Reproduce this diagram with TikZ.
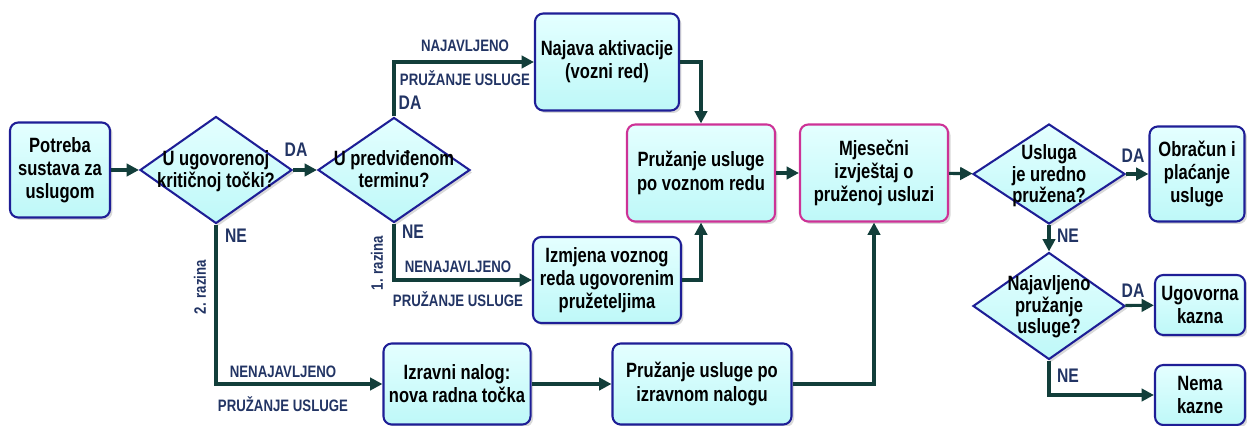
\documentclass[tikz,border=0pt]{standalone}
\usepackage{fontspec}
\setmainfont{Liberation Sans}[FakeStretch=0.8]
\usetikzlibrary{arrows.meta, positioning, shapes.geometric, shadows}
\definecolor{boxline}{RGB}{30,30,150}
\definecolor{pinkline}{RGB}{205,50,150}
\definecolor{boxtop}{RGB}{228,255,255}
\definecolor{boxbot}{RGB}{190,248,248}
\definecolor{flowline}{RGB}{18,62,58}
\definecolor{lblcol}{RGB}{34,52,100}
\begin{document}
\begin{tikzpicture}[x=0.017cm, y=-0.017cm,
        box/.style={draw=boxline, line width=1pt, rounded corners=4pt, top color=boxtop, bottom color=boxbot, align=center, inner sep=0pt, text=black, font=\bfseries\fontsize{10}{11.2}\selectfont, drop shadow={shadow xshift=1.2pt, shadow yshift=-1.2pt, opacity=0.3}},
        pinkbox/.style={box, draw=pinkline},
        decision/.style={shape=diamond, draw=boxline, line width=1pt, top color=boxtop, bottom color=boxbot, inner sep=0pt, minimum width=2.584cm, minimum height=1.819cm, drop shadow={shadow xshift=1.2pt, shadow yshift=-1.2pt, opacity=0.3}},
        dtext/.style={align=center, inner sep=0pt, text=black, font=\bfseries\fontsize{10}{9.2}\selectfont},
        arrow/.style={-{Triangle[length=6pt, width=6pt]}, line width=1.5pt, draw=flowline},
        flowlbl/.style={text=lblcol, inner sep=0pt, font=\bfseries\fontsize{8}{9}\selectfont},
        yesno/.style={text=lblcol, inner sep=0pt, font=\bfseries\fontsize{9.5}{10}\selectfont},
        levellbl/.style={flowlbl, rotate=90}
    ]
        \useasboundingbox (0,0) rectangle (1247,426);

        \node[box, minimum width=1.7cm, minimum height=1.615cm] (need) at (60,170) {Potreba\\sustava za\\uslugom};
        \node[decision] (crit) at (216,170) {};
        \node[dtext] (critt) at (216,171) {U ugovorenoj\\kritičnoj točki?};
        \node[decision, minimum height=1.785cm] (term) at (394,170) {};
        \node[dtext] (termt) at (394,169) {U predviđenom\\terminu?};
        \node[box, minimum width=2.448cm, minimum height=1.649cm] (announce) at (607,62) {Najava aktivacije\\(vozni red)};
        \node[box, minimum width=2.516cm, minimum height=1.462cm] (change) at (607,280) {Izmjena voznog\\reda ugovorenim\\pružeteljima};
        \node[box, minimum width=2.5cm, minimum height=1.377cm] (direct) at (457,384) {Izravni nalog:\\nova radna točka};
        \node[box, minimum width=3.043cm, minimum height=1.377cm] (bydirect) at (702,384) {Pružanje usluge po\\izravnom nalogu};
        \node[pinkbox, minimum width=2.516cm, minimum height=1.649cm] (bytable) at (701,173) {Pružanje usluge\\po voznom redu};
        \node[pinkbox, minimum width=2.516cm, minimum height=1.649cm] (report) at (874,173) {Mjesečni\\izvještaj o\\pruženoj usluzi};
        \node[decision, minimum height=1.7cm] (proper) at (1049,174) {};
        \node[dtext] (propert) at (1049,176) {Usluga\\je uredno\\pružena?};
        \node[box, minimum width=1.615cm, minimum height=1.615cm] (pay) at (1197,174) {Obračun i\\plaćanje\\usluge};
        \node[decision] (ann) at (1049,306) {};
        \node[dtext] (annt) at (1049,307) {Najavljeno\\pružanje\\usluge?};
        \node[box, minimum width=1.53cm, minimum height=1.02cm] (penalty) at (1200,305) {Ugovorna\\kazna};
        \node[box, minimum width=1.53cm, minimum height=1.02cm] (nopenalty) at (1200,395) {Nema\\kazne};

        \draw[arrow] (need) -- (crit);
        \draw[arrow] (crit) -- (term);
        \draw[arrow] (crit.south) |- (direct.west);
        \draw[arrow] (term.north) |- (announce.west);
        \draw[arrow] (term.south) |- (change.west);
        \draw[arrow] (announce.east) -| (bytable.north);
        \draw[arrow] (change.east) -| (bytable.south);
        \draw[arrow] (direct) -- (bydirect);
        \draw[arrow] (bydirect.east) -| (report.south);
        \draw[arrow] (bytable) -- (report);
        \draw[arrow] (report) -- (proper);
        \draw[arrow] (proper) -- (pay);
        \draw[arrow] (proper) -- (ann);
        \draw[arrow] (ann) -- (penalty);
        \draw[arrow] (ann.south) |- (nopenalty.west);

        \node[yesno] (yes1) at (296,150) {DA};
        \node[yesno] (no1) at (236,236) {NE};
        \node[yesno] (yes2) at (410,103) {DA};
        \node[yesno] (no2) at (413,232) {NE};
        \node[yesno] (yes3) at (1133,156) {DA};
        \node[yesno] (no3) at (1068,236) {NE};
        \node[yesno] (yes4) at (1133,291) {DA};
        \node[yesno] (no4) at (1068,376) {NE};

        \node[flowlbl] (annup) at (465,46) {NAJAVLJENO};
        \node[flowlbl] (annlow) at (465,78) {PRUŽANJE USLUGE};
        \node[flowlbl] (unann1up) at (458,267) {NENAJAVLJENO};
        \node[flowlbl] (unann1low) at (458,299) {PRUŽANJE USLUGE};
        \node[flowlbl] (unann2up) at (283,372) {NENAJAVLJENO};
        \node[flowlbl] (unann2low) at (283,404) {PRUŽANJE USLUGE};
        \node[levellbl] (level1) at (377,263) {1. razina};
        \node[levellbl] (level2) at (200,287) {2. razina};
    \end{tikzpicture}
\end{document}
